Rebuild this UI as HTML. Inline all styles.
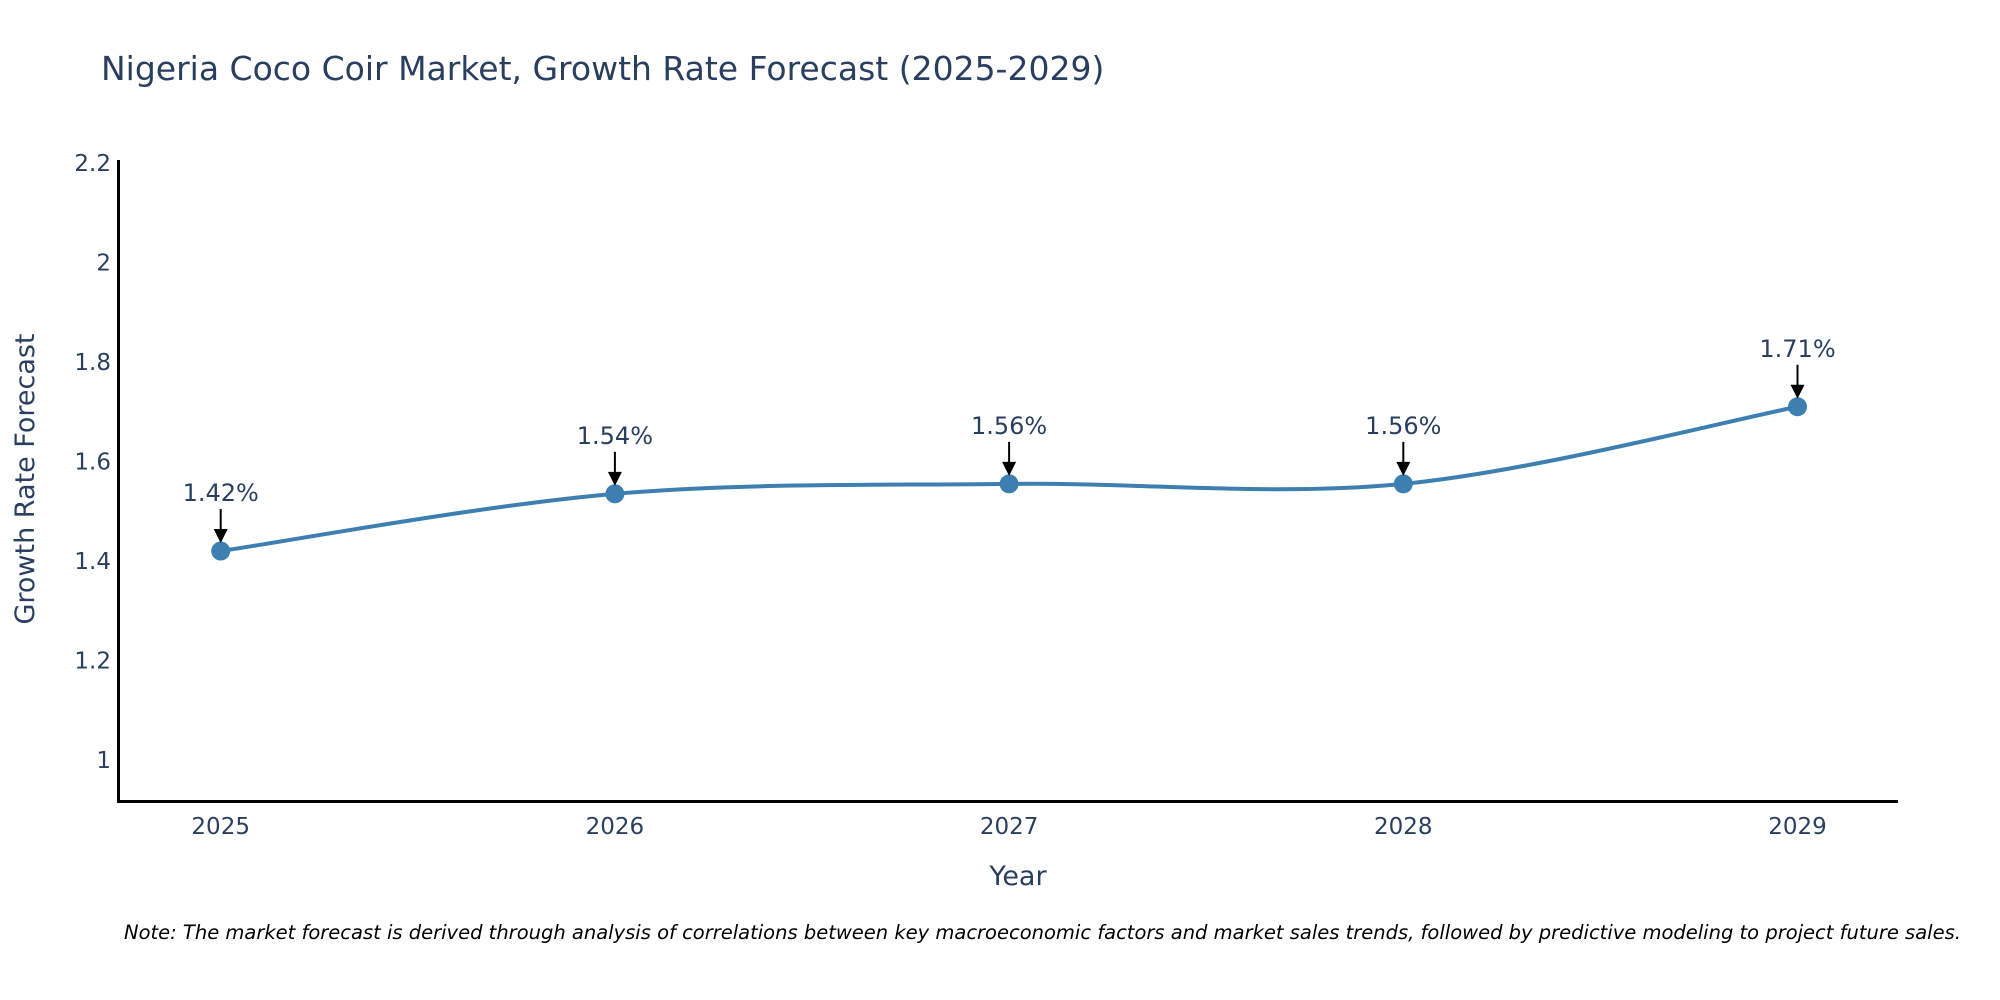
<!DOCTYPE html>
<html><head><meta charset="utf-8"><style>
body{margin:0;background:#fff}
svg{display:block;font-family:"DejaVu Sans","Liberation Sans",sans-serif}
</style></head><body>
<svg id="chart" width="2000" height="1000" viewBox="0 0 2000 1000">
<text x="101" y="80" font-size="33" fill="#2a3f5f">Nigeria Coco Coir Market, Growth Rate Forecast (2025-2029)</text>
<g id="yticks"></g>
<g id="xticks"></g>
<line x1="118.5" y1="160" x2="118.5" y2="802" stroke="#000" stroke-width="3"/>
<line x1="117" y1="801.5" x2="1898" y2="801.5" stroke="#000" stroke-width="3"/>
<text x="1018" y="885" font-size="27" fill="#2a3f5f" text-anchor="middle">Year</text>
<text transform="translate(34,479) rotate(-90)" font-size="27" fill="#2a3f5f" text-anchor="middle">Growth Rate Forecast</text>
<g id="series"></g>
<g id="annots"></g>
<text x="124" y="939" font-size="19.5" font-style="italic" fill="#000">Note: The market forecast is derived through analysis of correlations between key macroeconomic factors and market sales trends, followed by predictive modeling to project future sales.</text>
</svg>
<script>
const categories=["2025","2026","2027","2028","2029"];
const values=[1.42,1.535,1.555,1.555,1.71];
const labels=["1.42%","1.54%","1.56%","1.56%","1.71%"];
const yTicks=[1,1.2,1.4,1.6,1.8,2,2.2];
const NS="http://www.w3.org/2000/svg";
const x=i=>220.7+i*394.2;
const y=v=>760-(v-1)/0.2*99.5;
function mk(t,a,p){const e=document.createElementNS(NS,t);for(const k in a)e.setAttribute(k,a[k]);p.appendChild(e);return e;}
const yt=document.getElementById('yticks');
yTicks.forEach(v=>{const t=mk('text',{x:111,y:y(v)+8,'font-size':23,fill:'#2a3f5f','text-anchor':'end'},yt);


t.textContent=String(v);});
const xt=document.getElementById('xticks');
categories.forEach((c,i)=>{const t=mk('text',{x:x(i),y:834,'font-size':23,fill:'#2a3f5f','text-anchor':'middle'},xt);


t.textContent=c;});
const P=values.map((v,i)=>[x(i),y(v)]);
let d=`M${P[0][0]},${P[0][1]}`;
const s=0.5;
for(let i=0;i<P.length-1;i++){const p0=P[Math.max(0,i-1)],p1=P[i],p2=P[i+1],p3=P[Math.min(P.length-1,i+2)];
const c1=[p1[0]+(p2[0]-p0[0])*s/3,p1[1]+(p2[1]-p0[1])*s/3];
const c2=[p2[0]-(p3[0]-p1[0])*s/3,p2[1]-(p3[1]-p1[1])*s/3];
d+=` C${c1[0]},${c1[1]} ${c2[0]},${c2[1]} ${p2[0]},${p2[1]}`;}
const g=document.getElementById('series');
const ln=mk('path',{d:d,fill:'none',stroke:'#3d7fb1','stroke-width':4},g);


P.forEach(p=>{const c=mk('circle',{cx:p[0],cy:p[1],r:9.5,fill:'#3d7fb1'},g);

});
const an=document.getElementById('annots');
P.forEach((p,i)=>{
const l=mk('line',{x1:p[0],y1:p[1]-42,x2:p[0],y2:p[1]-20,stroke:'#000','stroke-width':2},an);


const h=mk('polygon',{points:`${p[0]-7},${p[1]-22} ${p[0]+7},${p[1]-22} ${p[0]},${p[1]-8}`,fill:'#000'},an);


const t=mk('text',{x:p[0],y:p[1]-50,'font-size':24,fill:'#2a3f5f','text-anchor':'middle'},an);


t.textContent=labels[i];});
</script>
</body></html>
